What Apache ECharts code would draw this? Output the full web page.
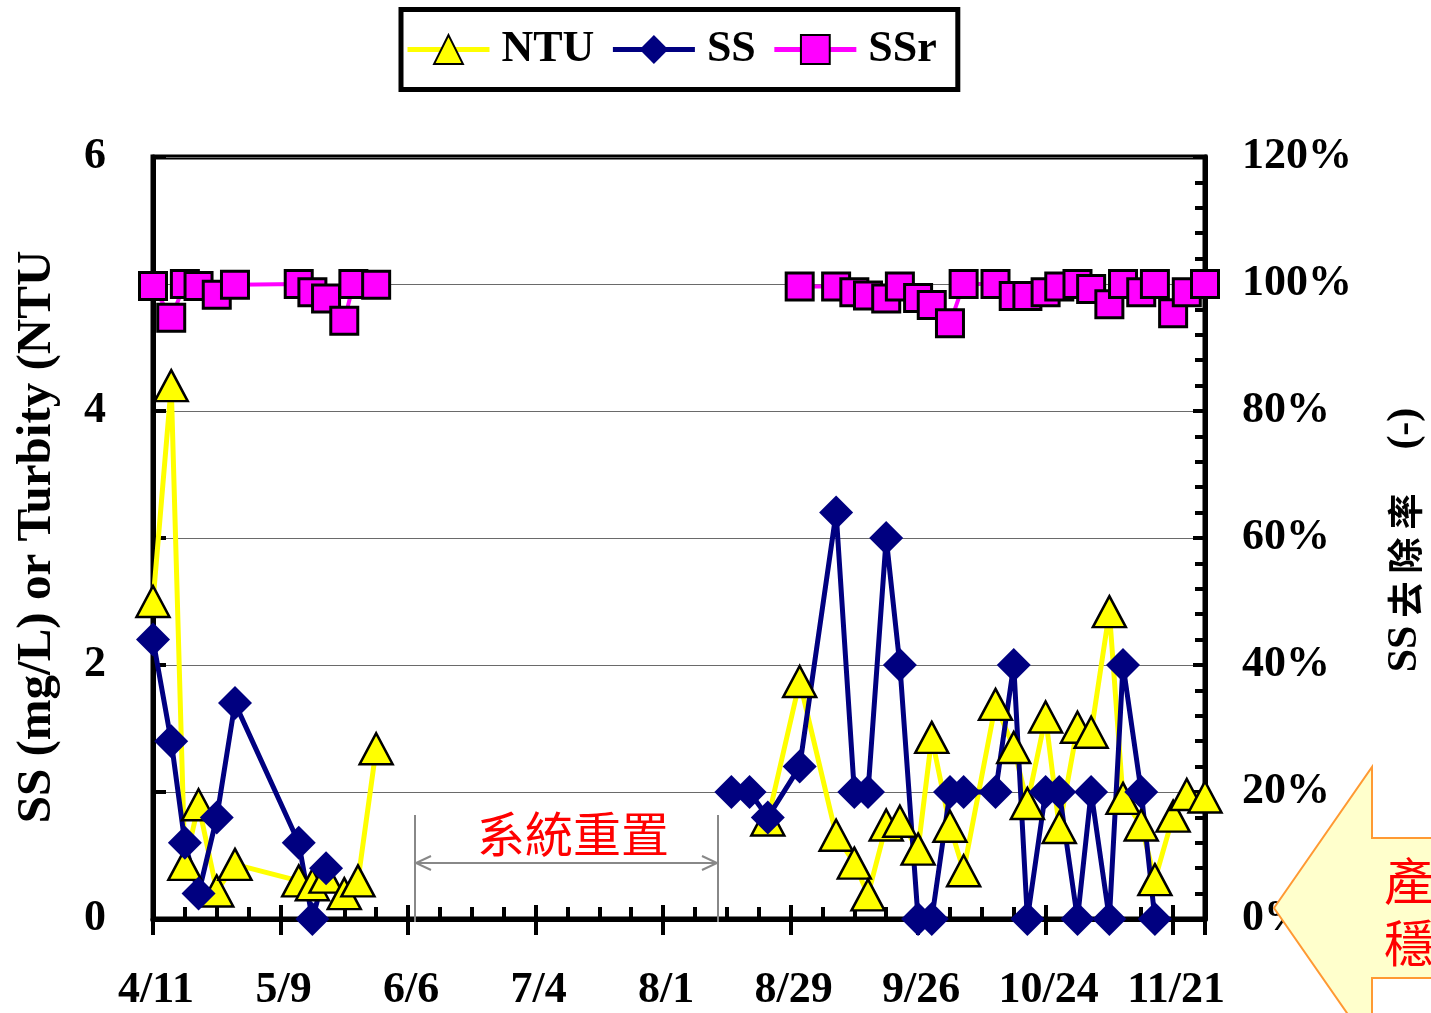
<!DOCTYPE html>
<html><head><meta charset="utf-8">
<script src="https://cdn.jsdelivr.net/npm/echarts@6/dist/echarts.min.js"></script>
<style>html,body{margin:0;padding:0;background:#fff}#c{width:1431px;height:1013px}</style>
</head><body><div id="c"></div>
<script>
// ---- data ----
const startDate = '4/11';
const xTickLabels = ['4/11','5/9','6/6','7/4','8/1','8/29','9/26','10/24','11/21'];
const leftTickLabels = ['0','2','4','6'];
const rightTickLabels = ['0%','20%','40%','60%','80%','100%','120%'];

const ntuDates = ['4/11','4/15','4/18','4/21','4/25','4/29','5/13','5/16','5/19','5/23','5/26','5/30',
  '8/24','8/31','9/8','9/12','9/15','9/19','9/22','9/26','9/29','10/3','10/6','10/13','10/17','10/20',
  '10/24','10/27','10/31','11/3','11/7','11/10','11/14','11/17','11/21','11/24','11/28'];
const ntuValues = [2.5,4.2,0.43,0.9,0.22,0.43,0.3,0.27,0.33,0.2,0.3,1.34,
  0.78,1.87,0.66,0.44,0.19,0.74,0.77,0.55,1.43,0.73,0.38,1.69,1.35,0.91,
  1.59,0.72,1.51,1.47,2.42,0.95,0.74,0.31,0.81,0.98,0.96];

const ssDates = ['4/11','4/15','4/18','4/21','4/25','4/29','5/13','5/16','5/19',
  '8/16','8/20','8/24','8/31','9/8','9/12','9/15','9/19','9/22','9/26','9/29','10/3','10/6',
  '10/13','10/17','10/20','10/24','10/27','10/31','11/3','11/7','11/10','11/14','11/17'];
const ssValues = [2.2,1.4,0.6,0.2,0.8,1.7,0.6,0.0,0.4,
  1.0,1.0,0.8,1.2,3.2,1.0,1.0,3.0,2.0,0.0,0.0,1.0,1.0,
  1.0,2.0,0.0,1.0,1.0,0.0,1.0,0.0,2.0,1.0,0.0];

const ssrDates = ['4/11','4/15','4/18','4/21','4/25','4/29','5/13','5/16','5/19','5/23','5/25','5/30',
  '8/31','9/8','9/12','9/15','9/19','9/22','9/26','9/29','10/3','10/6','10/13','10/17','10/20',
  '10/24','10/27','10/31','11/3','11/7','11/10','11/14','11/17','11/21','11/24','11/28'];
const ssrValues = [99.7,94.7,100,99.7,98.3,99.9,100,98.7,97.7,94.2,100,99.9,
  99.6,99.6,98.7,98.2,97.7,99.6,97.8,96.7,93.8,100,100,98.1,98.1,
  98.7,99.6,100,99.2,96.8,100,98.7,100,95.4,98.7,100];

// ---- helpers ----
function dayOf(s){const [m,d]=s.split('/').map(Number);const [m0,d0]=startDate.split('/').map(Number);
  return Math.round((Date.UTC(2006,m-1,d)-Date.UTC(2006,m0-1,d0))/86400000);}
function build(dates, vals){
  const out=[];let prev=null;
  dates.forEach((s,i)=>{const d=dayOf(s); if(prev!==null && d-prev>30) out.push([d,'-']); out.push([d,vals[i]]); prev=d;});
  return out;
}
const ntuData=build(ntuDates,ntuValues), ssData=build(ssDates,ssValues), ssrData=build(ssrDates,ssrValues);
const xMax = dayOf('11/28');

const FONT='"Liberation Serif","Times New Roman",serif';
const lbl={fontFamily:FONT,fontWeight:'bold',fontSize:44,color:'#000'};

const chart=echarts.init(document.getElementById('c'),null,{renderer:'canvas'});
const triStyle={color:'#FFFF00',borderColor:'#000',borderWidth:2.5,opacity:1};
const diaStyle={color:'#000080',borderColor:'#000080',borderWidth:0,opacity:1};
const sqStyle={color:'#FF00FF',borderColor:'#000',borderWidth:3,opacity:1};

chart.setOption({
  animation:false,
  backgroundColor:'#fff',
  grid:{left:153,top:157,width:1052,height:768,show:true,borderColor:'#000',borderWidth:5,backgroundColor:'transparent'},
  legend:{
    data:['NTU','SS','SSr'],left:401,top:9.5,
    padding:[18,21,18,4],itemWidth:82,itemHeight:36,itemGap:16,
    backgroundColor:'#fff',borderColor:'#000',borderWidth:5,
    textStyle:Object.assign({padding:[0,0,0,7]},lbl),
    lineStyle:{width:5}
  },
  xAxis:[{
    type:'value',min:0,max:xMax,interval:28,
    axisLine:{show:true,onZero:false,lineStyle:{color:'#000',width:5}},
    axisTick:{show:true,inside:true,length:14,lineStyle:{color:'#000',width:4}},
    minorTick:{show:true,splitNumber:4,length:12,lineStyle:{color:'#000',width:4}},
    splitLine:{show:false},
    axisLabel:Object.assign({margin:50,padding:[0,0,0,6],showMaxLabel:false,formatter:v=>v%28===0?xTickLabels[v/28]:''},lbl)
  },{
    type:'value',min:0,max:xMax,interval:28,position:'bottom',
    axisLine:{show:false,onZero:false},axisLabel:{show:false},splitLine:{show:false},
    axisTick:{show:true,inside:false,length:16,lineStyle:{color:'#000',width:4}}
  }],
  yAxis:[{
    type:'value',min:0,max:6,interval:1,position:'left',
    axisLine:{show:true,onZero:false,lineStyle:{color:'#000',width:5}},
    axisTick:{show:true,inside:true,length:13,lineStyle:{color:'#000',width:4}},
    minorTick:{show:false},
    splitLine:{show:false},
    axisLabel:Object.assign({margin:47,padding:[0,0,6,0],formatter:v=>v%2===0?leftTickLabels[v/2]:''},lbl)
  },{
    type:'value',min:0,max:120,interval:20,position:'right',
    axisLine:{show:true,onZero:false,lineStyle:{color:'#000',width:5}},
    axisTick:{show:true,inside:true,length:12,lineStyle:{color:'#000',width:4}},
    minorTick:{show:true,splitNumber:5,length:10,lineStyle:{color:'#000',width:4}},
    splitLine:{show:true,lineStyle:{color:'#6a6a6a',width:1}},
    axisLabel:Object.assign({margin:37,padding:[0,0,6,0],formatter:v=>rightTickLabels[v/20]},lbl)
  }],
  series:[
    {name:'NTU',type:'line',data:ntuData,showSymbol:false,symbol:'triangle',symbolSize:[33,31],itemStyle:triStyle,
      lineStyle:{color:'#FFFF00',width:5},connectNulls:false,z:2},
    {name:'SS',type:'line',data:ssData,showSymbol:false,symbol:'diamond',symbolSize:[34,34],itemStyle:diaStyle,
      lineStyle:{color:'#000080',width:5},connectNulls:false,z:2},
    {name:'SSr',type:'line',yAxisIndex:1,data:ssrData,showSymbol:false,symbol:'rect',symbolSize:27,itemStyle:sqStyle,
      lineStyle:{color:'#FF00FF',width:4},connectNulls:false,z:2},
    {name:'NTU',type:'scatter',data:ntuData,symbol:'triangle',symbolSize:[33,31],itemStyle:triStyle,z:3,clip:false},
    {name:'SS',type:'scatter',data:ssData,symbol:'diamond',symbolSize:[34,34],itemStyle:diaStyle,z:3,clip:false},
    {name:'SSr',type:'scatter',yAxisIndex:1,data:ssrData,symbol:'rect',symbolSize:27,itemStyle:sqStyle,z:3,clip:false}
  ],
  graphic:[
    {type:'text',x:37,y:537,rotation:Math.PI/2,z:10,
      style:{text:'SS (mg/L) or Turbity (NTU',font:'bold 49px '+FONT,fill:'#000',textAlign:'center',textVerticalAlign:'middle'}},
    {type:'text',x:1405,y:540,rotation:Math.PI/2,z:10,
      style:{text:'{a|SS}{b|去}{b|除}{b|率}{c|(-)}',textAlign:'center',textVerticalAlign:'middle',
        rich:{a:{fontFamily:FONT,fontWeight:'bold',fontSize:42,fill:'#000',padding:[0,4,0,0]},
              b:{fontFamily:'"Noto Sans CJK TC"',fontWeight:'bold',fontSize:36,fill:'#000',padding:[0,4,0,4]},
              c:{fontFamily:FONT,fontWeight:'bold',fontSize:42,fill:'#000',padding:[0,0,0,40]}}}},
    {type:'text',x:573,y:834,z:10,
      style:{text:'系統重置',font:'48px "Noto Sans CJK TC",sans-serif',fill:'#FF0000',textAlign:'center',textVerticalAlign:'middle'}},
    {type:'line',z:10,shape:{x1:415,y1:815,x2:415,y2:922},style:{stroke:'#888',lineWidth:2}},
    {type:'line',z:10,shape:{x1:718,y1:815,x2:718,y2:922},style:{stroke:'#888',lineWidth:2}},
    {type:'line',z:10,shape:{x1:416,y1:863,x2:717,y2:863},style:{stroke:'#888',lineWidth:2}},
    {type:'polyline',z:10,shape:{points:[[431,856],[416,863],[431,870]]},style:{stroke:'#888',lineWidth:2,fill:null}},
    {type:'polyline',z:10,shape:{points:[[702,856],[717,863],[702,870]]},style:{stroke:'#888',lineWidth:2,fill:null}},
    {type:'polygon',z:20,shape:{points:[[1274,908],[1372,767],[1372,838],[1460,838],[1460,978],[1372,978],[1372,1049]]},
      style:{fill:'#FFFFCC',stroke:'#FF9933',lineWidth:2}},
    {type:'text',x:1384,y:881,z:21,style:{text:'產',font:'50px "Noto Sans CJK TC",sans-serif',fill:'#FF0000',textAlign:'left',textVerticalAlign:'middle'}},
    {type:'text',x:1384,y:943,z:21,style:{text:'穩',font:'50px "Noto Sans CJK TC",sans-serif',fill:'#FF0000',textAlign:'left',textVerticalAlign:'middle'}}
  ]
});
</script></body></html>
